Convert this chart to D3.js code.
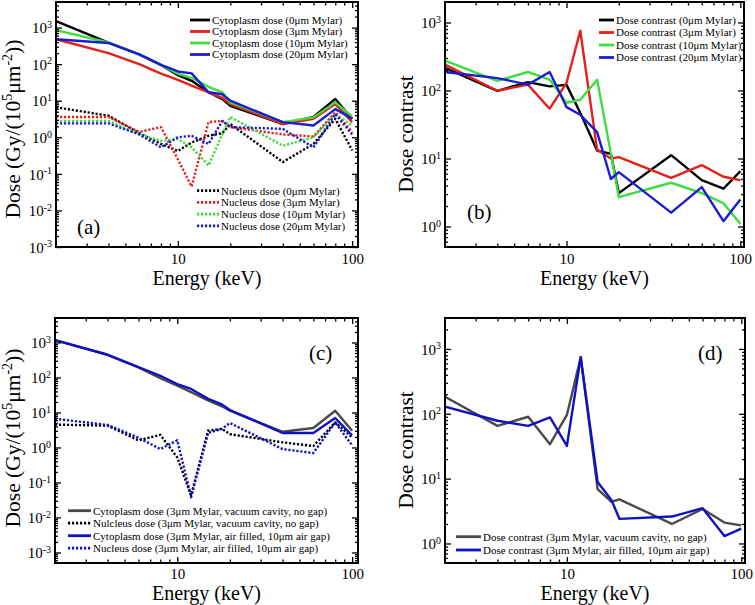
<!DOCTYPE html>
<html>
<head>
<meta charset="utf-8">
<script src="https://cdn.jsdelivr.net/npm/d3@7"></script>
<style>
  body { margin: 0; background: #fff; }
  svg { font-family: "Liberation Serif", "Times New Roman", serif; }
</style>
</head>
<body>
<div id="chart"></div>
<script>
// photon energies (keV), shared by every curve
const energy = [2, 4, 6, 8, 10, 12, 15, 18, 20, 40, 60, 80, 100];

// (a) cytoplasm dose per Mylar thickness
const cytoA0 = [1500, 390, 185, 95, 50, 35, 17, 11, 7.2, 2.3, 3.6, 11.2, 3.2];
const cytoA3 = [480, 200, 100, 55, 37, 26, 17, 12, 8.1, 2.3, 3.2, 8.1, 2.6];
const cytoA10 = [850, 390, 185, 95, 54, 42, 24, 17, 9, 2.6, 3.5, 9, 3.7];
const cytoA20 = [480, 380, 185, 95, 63, 56, 17, 15, 10, 2.6, 2.1, 5.9, 3.2];

// (a) nucleus dose per Mylar thickness
const nucA0 = [6.6, 3.9, 1.3, 0.66, 0.42, 0.72, 1.1, 1.3, 2.3, 0.21, 0.66, 3.2, 0.44];
const nucA3 = [3.6, 3.6, 1.4, 1.9, 0.25, 0.045, 2.6, 2.8, 1.9, 1.2, 1.05, 4.8, 1.4];
const nucA10 = [2.8, 2.8, 1.2, 0.8, 0.9, 0.53, 0.17, 1.2, 3.6, 0.59, 1.0, 4.3, 2.1];
const nucA20 = [2.4, 2.4, 1.2, 0.53, 1.0, 1.1, 0.66, 2.8, 1.9, 1.7, 0.53, 4.3, 1.2];

// (b) dose contrast per Mylar thickness
const conB0 = [215, 99, 133, 115, 121, 47, 13.1, 11.7, 3.1, 11.2, 4.8, 3.6, 6.5];
const conB3 = [240, 99, 122, 54, 129, 755, 13.5, 10, 10.5, 5.2, 8, 5.4, 4.8];
const conB10 = [274, 139, 187, 144, 66, 73, 144, 12, 2.7, 4.4, 3.1, 2.2, 1.1];
const conB20 = [187, 152, 122, 187, 57, 44, 24.5, 5.0, 6.3, 1.6, 3.8, 1.2, 2.5];

// (c) vacuum cavity vs air filled
const cytoVac = [1160, 445, 194, 96, 58, 38, 22, 15, 11.3, 2.8, 3.6, 11.2, 3.0];
const nucVac = [4.5, 4.2, 1.6, 2.3, 0.52, 0.043, 3.0, 3.4, 2.4, 1.4, 1.1, 5.2, 1.95];
const cytoAir = [1160, 445, 198, 112, 65, 47, 24.4, 17, 11.7, 2.6, 2.6, 6.9, 2.2];
const nucAir = [6.6, 4.4, 1.9, 0.9, 1.6, 0.038, 2.6, 3.4, 5.0, 0.9, 0.69, 5.2, 1.15];

// (d) dose contrast, vacuum vs air
const conVac = [183, 65, 90, 34, 96, 745, 6.9, 4.4, 4.8, 2.0, 3.4, 2.1, 1.9];
const conAir = [129, 78, 65, 88, 32, 745, 8.9, 4.7, 2.4, 2.6, 3.5, 1.3, 1.7];

const xTicks = [10, 100];

const BLACK = "#000000", RED = "#e3211c", GREEN = "#3fdc3f", BLUE = "#1c1cd2";
const GRAY = "#4a4a4a", DBLUE = "#1010c4";

const svg = d3.select("#chart").append("svg").attr("width", 755).attr("height", 605);

const panels = [
  {
    label: "(a)", labelPos: [77, 234], titleGap: 38, tickPad: 6,
    box: { left: 56, top: 2, right: 358, bottom: 247 },
    xDomain: [2, 108], yDomain: [1e-3, 5e3],
    yTitle: "dose", yTitlePos: [20, 129],
    series: [
      { values: cytoA0, color: BLACK }, { values: cytoA3, color: RED },
      { values: cytoA10, color: GREEN }, { values: cytoA20, color: BLUE },
      { values: nucA0, color: BLACK, dotted: true }, { values: nucA3, color: RED, dotted: true },
      { values: nucA10, color: GREEN, dotted: true }, { values: nucA20, color: BLUE, dotted: true },
    ],
    legends: [
      { x: 190, len: 20, y0: 20, step: 11.5, items: [
        ["Cytoplasm dose (0μm Mylar)", BLACK], ["Cytoplasm dose (3μm Mylar)", RED],
        ["Cytoplasm dose (10μm Mylar)", GREEN], ["Cytoplasm dose (20μm Mylar)", BLUE]] },
      { x: 197, len: 22, y0: 190.7, step: 11.7, dotted: true, items: [
        ["Nucleus dsoe (0μm Mylar)", BLACK], ["Nucleus dose (3μm Mylar)", RED],
        ["Nucleus dose (10μm Mylar)", GREEN], ["Nucleus dose (20μm Mylar)", BLUE]] },
    ],
  },
  {
    label: "(b)", labelPos: [467, 219], titleGap: 38, tickPad: 6,
    box: { left: 445, top: 2, right: 744, bottom: 247 },
    xDomain: [2, 105], yDomain: [0.5, 2000],
    yTitle: "contrast", yTitlePos: [413, 134],
    series: [
      { values: conB0, color: BLACK }, { values: conB3, color: RED },
      { values: conB10, color: GREEN }, { values: conB20, color: BLUE },
    ],
    legends: [
      { x: 599, len: 15, y0: 20, step: 12.5, items: [
        ["Dose contrast (0μm Mylar)", BLACK], ["Dose contrast (3μm Mylar)", RED],
        ["Dose contrast (10μm Mylar)", GREEN], ["Dose contrast (20μm Mylar)", BLUE]] },
    ],
  },
  {
    label: "(c)", labelPos: [309, 360], titleGap: 37, tickPad: 5,
    box: { left: 55, top: 318, right: 358, bottom: 563 },
    xDomain: [2, 108], yDomain: [5e-4, 5e3],
    yTitle: "dose", yTitlePos: [20, 438],
    series: [
      { values: cytoVac, color: GRAY }, { values: nucVac, color: BLACK, dotted: true },
      { values: cytoAir, color: DBLUE }, { values: nucAir, color: DBLUE, dotted: true },
    ],
    legends: [
      { x: 68, len: 23, y0: 510.7, step: 12.5, styled: true, items: [
        ["Cytoplasm dose (3μm Mylar, vacuum cavity, no gap)", GRAY, false],
        ["Nulcleus dose (3μm Mylar, vacuum cavity, no gap)", BLACK, true],
        ["Cytoplasm dose (3μm Mylar, air filled, 10μm air gap)", DBLUE, false],
        ["Nucleus dose (3μm Mylar, air filled, 10μm air gap)", DBLUE, true]] },
    ],
  },
  {
    label: "(d)", labelPos: [698, 360], titleGap: 37, tickPad: 5,
    box: { left: 445, top: 318, right: 745, bottom: 563 },
    xDomain: [2, 105], yDomain: [0.5, 3000],
    yTitle: "contrast", yTitlePos: [413, 450],
    series: [
      { values: conVac, color: GRAY }, { values: conAir, color: DBLUE },
    ],
    legends: [
      { x: 456, len: 25, y0: 536.7, step: 13.3, items: [
        ["Dose contrast (3μm Mylar, vacuum cavity, no gap)", GRAY],
        ["Dose contrast (3μm Mylar, air filled, 10μm air gap)", DBLUE]] },
    ],
  },
];

panels.forEach(drawPanel);

function logMinors(domain) {
  const out = [];
  const lo = Math.floor(Math.log10(domain[0])), hi = Math.ceil(Math.log10(domain[1]));
  for (let k = lo; k <= hi; k++) {
    for (let m = 2; m <= 9; m++) {
      const v = m * Math.pow(10, k);
      if (v > domain[0] && v < domain[1]) out.push(v);
    }
  }
  return out;
}

function logMajors(domain) {
  const out = [];
  const lo = Math.ceil(Math.log10(domain[0]) - 1e-9), hi = Math.floor(Math.log10(domain[1]) + 1e-9);
  for (let k = lo; k <= hi; k++) out.push(Math.pow(10, k));
  return out;
}

function drawPanel(p) {
  const b = p.box;
  const x = d3.scaleLog().domain(p.xDomain).range([b.left, b.right]);
  const y = d3.scaleLog().domain(p.yDomain).range([b.bottom, b.top]);
  const g = svg.append("g");

  // data lines
  const line = d3.line().x((d) => x(d[0])).y((d) => y(d[1]));
  p.series.forEach((s) => {
    g.append("path")
      .datum(energy.map((e, i) => [e, s.values[i]]))
      .attr("d", line)
      .attr("fill", "none")
      .attr("stroke", s.color)
      .attr("stroke-width", 2.4)
      .attr("stroke-linejoin", "round")
      .attr("stroke-dasharray", s.dotted ? "2.2,1.8" : null);
  });

  // inward ticks on all four sides
  const yMaj = logMajors(p.yDomain), yMin = logMinors(p.yDomain);
  const xMin = logMinors(p.xDomain);
  const tickAxis = (axis, tr) => {
    const a = g.append("g").attr("transform", tr).call(axis);
    a.select(".domain").remove();
    a.selectAll("line").attr("stroke", "#000").attr("stroke-width", 1.3);
    return a;
  };

  const bottomAxis = tickAxis(
    d3.axisBottom(x).tickValues(xTicks).tickSize(-6).tickPadding(p.tickPad).tickFormat(d3.format("d")),
    `translate(0,${b.bottom})`
  );
  bottomAxis.selectAll("text").attr("font-size", 15).attr("font-family", "Liberation Serif").attr("fill", "#000");
  tickAxis(d3.axisBottom(x).tickValues(xMin).tickSize(-3.5).tickFormat(""), `translate(0,${b.bottom})`);
  tickAxis(d3.axisTop(x).tickValues(xTicks).tickSize(-6).tickFormat(""), `translate(0,${b.top})`);
  tickAxis(d3.axisTop(x).tickValues(xMin).tickSize(-3.5).tickFormat(""), `translate(0,${b.top})`);

  const leftAxis = tickAxis(
    d3.axisLeft(y).tickValues(yMaj).tickSize(-6).tickPadding(5).tickFormat(""),
    `translate(${b.left},0)`
  );
  leftAxis.selectAll(".tick text").each(function (d) {
    const t = d3.select(this)
      .attr("font-size", 15).attr("font-family", "Liberation Serif").attr("fill", "#000")
      .attr("x", -4).attr("dy", "0.35em");
    t.append("tspan").text("10");
    t.append("tspan").attr("font-size", 10).attr("dy", "-0.55em")
      .text(String(Math.round(Math.log10(d))));
  });
  tickAxis(d3.axisLeft(y).tickValues(yMin).tickSize(-3).tickFormat(""), `translate(${b.left},0)`);
  tickAxis(d3.axisRight(y).tickValues(yMaj).tickSize(-6).tickFormat(""), `translate(${b.right},0)`);
  tickAxis(d3.axisRight(y).tickValues(yMin).tickSize(-3).tickFormat(""), `translate(${b.right},0)`);

  // frame
  g.append("rect")
    .attr("x", b.left).attr("y", b.top)
    .attr("width", b.right - b.left).attr("height", b.bottom - b.top)
    .attr("fill", "none").attr("stroke", "#000").attr("stroke-width", 2);

  // axis titles
  g.append("text")
    .attr("x", (b.left + b.right) / 2).attr("y", b.bottom + p.titleGap)
    .attr("text-anchor", "middle").attr("font-size", 20)
    .text("Energy (keV)");

  const yt = g.append("text")
    .attr("transform", `translate(${p.yTitlePos[0]},${p.yTitlePos[1]}) rotate(-90)`)
    .attr("text-anchor", "middle").attr("font-size", 21.5);
  if (p.yTitle === "dose") {
    yt.append("tspan").text("Dose (Gy/(10");
    yt.append("tspan").attr("font-size", 14).attr("dy", -8).text("5");
    yt.append("tspan").attr("dy", 8).text("μm");
    yt.append("tspan").attr("font-size", 14).attr("dy", -8).text("-2");
    yt.append("tspan").attr("dy", 8).text("))");
  } else {
    yt.text("Dose contrast");
  }

  // panel letter
  g.append("text")
    .attr("x", p.labelPos[0]).attr("y", p.labelPos[1])
    .attr("font-size", 21).text(p.label);

  // legends
  p.legends.forEach((lg) => {
    lg.items.forEach((it, i) => {
      const ly = lg.y0 + i * lg.step;
      const dotted = lg.styled ? it[2] : lg.dotted;
      g.append("line")
        .attr("x1", lg.x).attr("x2", lg.x + lg.len)
        .attr("y1", ly).attr("y2", ly)
        .attr("stroke", it[1]).attr("stroke-width", 2.8)
        .attr("stroke-dasharray", dotted ? "2.2,1.8" : null);
      g.append("text")
        .attr("x", lg.x + lg.len + 2).attr("y", ly).attr("dy", "0.35em")
        .attr("font-size", 11).text(it[0]);
    });
  });
}
</script>
</body>
</html>
